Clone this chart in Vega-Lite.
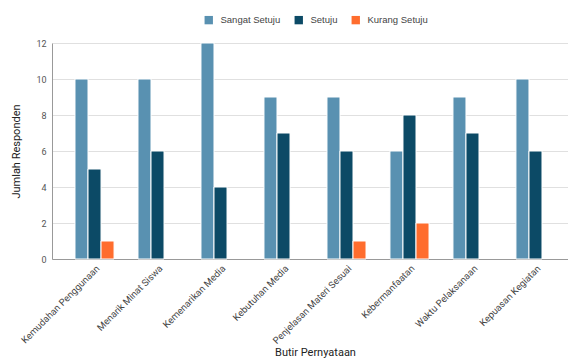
{
  "$schema": "https://vega.github.io/schema/vega-lite/v6.json",
  "autosize": {"type": "none"},
  "padding": {"left": 52, "top": 43, "right": 0, "bottom": 102},
  "width": 526,
  "height": 216,
  "background": "white",
  "config": {
    "font": "Roboto",
    "view": {"stroke": null}
  },
  "data": {
    "values": [
      {"butir": "Kemudahan Penggunaan", "kategori": "Sangat Setuju", "jumlah": 10},
      {"butir": "Kemudahan Penggunaan", "kategori": "Setuju", "jumlah": 5},
      {"butir": "Kemudahan Penggunaan", "kategori": "Kurang Setuju", "jumlah": 1},
      {"butir": "Menarik Minat Siswa", "kategori": "Sangat Setuju", "jumlah": 10},
      {"butir": "Menarik Minat Siswa", "kategori": "Setuju", "jumlah": 6},
      {"butir": "Menarik Minat Siswa", "kategori": "Kurang Setuju", "jumlah": 0},
      {"butir": "Kemenarikan Media", "kategori": "Sangat Setuju", "jumlah": 12},
      {"butir": "Kemenarikan Media", "kategori": "Setuju", "jumlah": 4},
      {"butir": "Kemenarikan Media", "kategori": "Kurang Setuju", "jumlah": 0},
      {"butir": "Kebutuhan Media", "kategori": "Sangat Setuju", "jumlah": 9},
      {"butir": "Kebutuhan Media", "kategori": "Setuju", "jumlah": 7},
      {"butir": "Kebutuhan Media", "kategori": "Kurang Setuju", "jumlah": 0},
      {"butir": "Penjelasan Materi Sesuai", "kategori": "Sangat Setuju", "jumlah": 9},
      {"butir": "Penjelasan Materi Sesuai", "kategori": "Setuju", "jumlah": 6},
      {"butir": "Penjelasan Materi Sesuai", "kategori": "Kurang Setuju", "jumlah": 1},
      {"butir": "Kebermanfaatan", "kategori": "Sangat Setuju", "jumlah": 6},
      {"butir": "Kebermanfaatan", "kategori": "Setuju", "jumlah": 8},
      {"butir": "Kebermanfaatan", "kategori": "Kurang Setuju", "jumlah": 2},
      {"butir": "Waktu Pelaksanaan", "kategori": "Sangat Setuju", "jumlah": 9},
      {"butir": "Waktu Pelaksanaan", "kategori": "Setuju", "jumlah": 7},
      {"butir": "Waktu Pelaksanaan", "kategori": "Kurang Setuju", "jumlah": 0},
      {"butir": "Kepuasan Kegiatan", "kategori": "Sangat Setuju", "jumlah": 10},
      {"butir": "Kepuasan Kegiatan", "kategori": "Setuju", "jumlah": 6},
      {"butir": "Kepuasan Kegiatan", "kategori": "Kurang Setuju", "jumlah": 0}
    ]
  },
  "transform": [{"filter": "datum.jumlah > 0"}],
  "mark": {"type": "bar", "stroke": "white", "strokeWidth": 1},
  "encoding": {
    "x": {
      "field": "butir",
      "type": "nominal",
      "sort": null,
      "scale": {"paddingInner": 0.38, "paddingOuter": 0.365},
      "axis": {
        "title": "Butir Pernyataan",
        "titleFontSize": 11,
        "titleFontWeight": "normal",
        "titleColor": "#222",
        "titlePadding": 1,
        "labelAngle": -45,
        "labelFontSize": 9.5,
        "labelColor": "#444",
        "labelPadding": 4,
        "ticks": false,
        "domainColor": "#999",
        "grid": false
      }
    },
    "xOffset": {
      "field": "kategori",
      "type": "nominal",
      "sort": ["Sangat Setuju", "Setuju", "Kurang Setuju"],
      "scale": {"domain": ["Sangat Setuju", "Setuju", "Kurang Setuju"], "paddingInner": 0, "paddingOuter": 0}
    },
    "y": {
      "field": "jumlah",
      "type": "quantitative",
      "scale": {"domain": [0, 12], "nice": false},
      "axis": {
        "title": "Jumlah Responden",
        "titleFontSize": 11,
        "titleFontWeight": "normal",
        "titleColor": "#222",
        "titlePadding": 14,
        "values": [0, 2, 4, 6, 8, 10, 12],
        "labelFontSize": 9,
        "labelColor": "#555",
        "labelPadding": 6,
        "ticks": false,
        "domainColor": "#999",
        "gridColor": "#e0e0e0"
      }
    },
    "color": {
      "field": "kategori",
      "type": "nominal",
      "sort": ["Sangat Setuju", "Setuju", "Kurang Setuju"],
      "scale": {
        "domain": ["Sangat Setuju", "Setuju", "Kurang Setuju"],
        "range": ["#5991b1", "#0c4a66", "#ff6d2e"]
      },
      "legend": {
        "title": null,
        "orient": "none",
        "direction": "horizontal",
        "legendX": 152,
        "legendY": -28,
        "symbolType": "square",
        "symbolSize": 70,
        "symbolStrokeWidth": 0,
        "labelFont": "Liberation Sans",
        "labelFontSize": 9.5,
        "labelColor": "#444",
        "labelOffset": 7,
        "columnPadding": 13
      }
    }
  }
}
